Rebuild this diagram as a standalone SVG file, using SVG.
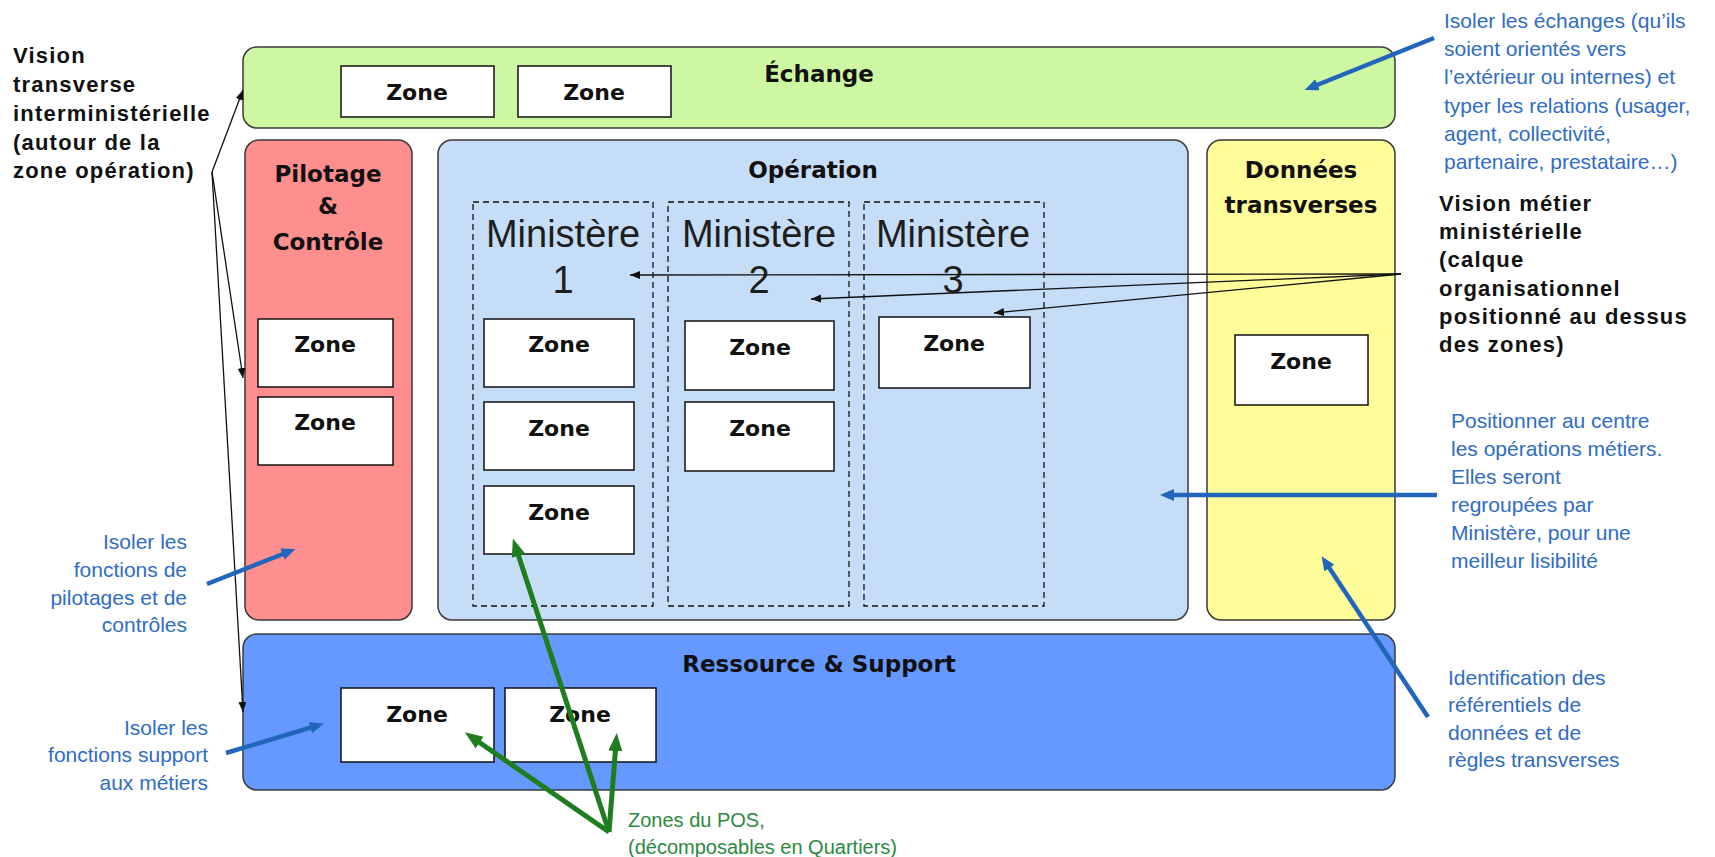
<svg xmlns="http://www.w3.org/2000/svg" width="1715" height="857" viewBox="0 0 1715 857">
<style>
.bg{fill:#ffffff}
.area{stroke:#3a3a3a;stroke-width:1.5}
.zone{fill:#ffffff;stroke:#111;stroke-width:1.5}
.dash{fill:none;stroke:#111;stroke-width:1.3;stroke-dasharray:6 4}
.zt{font-family:"DejaVu Sans",Verdana,sans-serif;font-weight:bold;font-size:22px;fill:#111;text-anchor:middle}
.tt{font-family:"DejaVu Sans",Verdana,sans-serif;font-weight:bold;font-size:23px;fill:#111;text-anchor:middle}
.min{font-family:"Liberation Sans",Arial,sans-serif;font-size:38px;fill:#1e1e1e;text-anchor:middle}
.bk{font-family:"Liberation Sans",Arial,sans-serif;font-weight:bold;font-size:22px;fill:#111;letter-spacing:1.2px}
.bl{font-family:"Liberation Sans",Arial,sans-serif;font-size:21px;fill:#2f6cc4}
.gr{font-family:"Liberation Sans",Arial,sans-serif;font-size:20px;fill:#2b8a3e}
.ka{fill:none;stroke:#111;stroke-width:1.3}
.ba{fill:none;stroke:#2266bb;stroke-width:4.5}
.ga{fill:none;stroke:#1e7d1e;stroke-width:5}
</style>
<defs>
<marker id="mk" markerUnits="userSpaceOnUse" markerWidth="11" markerHeight="9" refX="10" refY="4" orient="auto"><path d="M0,0 L10,4 L0,8 z" fill="#111"/></marker>
<marker id="mb" markerUnits="userSpaceOnUse" markerWidth="16" markerHeight="14" refX="6" refY="6" orient="auto"><path d="M0,0 L14,6 L0,12 z" fill="#2266bb"/></marker>
<marker id="mg" markerUnits="userSpaceOnUse" markerWidth="20" markerHeight="16" refX="8" refY="7" orient="auto"><path d="M0,0 L18,7 L0,14 z" fill="#1e7d1e"/></marker>
</defs>
<rect class="bg" x="0" y="0" width="1715" height="857"/>

<g id="echange">
<rect class="area" x="243" y="47" width="1152" height="81" rx="14" fill="#cdf7a0"/>
<text class="tt" x="819" y="82">Échange</text>
<rect class="zone" x="341" y="66" width="153" height="51"/>
<text class="zt" x="417" y="100">Zone</text>
<rect class="zone" x="518" y="66" width="153" height="51"/>
<text class="zt" x="594" y="100">Zone</text>
</g>

<g id="pilotage">
<rect class="area" x="245" y="140" width="167" height="480" rx="14" fill="#ff8f8f"/>
<text class="tt" x="328" y="182">Pilotage</text>
<text class="tt" x="328" y="214">&amp;</text>
<text class="tt" x="328" y="250">Contrôle</text>
<rect class="zone" x="258" y="319" width="135" height="68"/>
<text class="zt" x="325" y="352">Zone</text>
<rect class="zone" x="258" y="397" width="135" height="68"/>
<text class="zt" x="325" y="430">Zone</text>
</g>

<g id="operation">
<rect class="area" x="438" y="140" width="750" height="480" rx="14" fill="#c5ddf6"/>
<text class="tt" x="813" y="178">Opération</text>
</g>

<g id="ministere1">
<rect class="dash" x="473" y="202" width="180" height="404"/>
<text class="min" x="563" y="247">Ministère</text>
<text class="min" x="563" y="293">1</text>
<rect class="zone" x="484" y="319" width="150" height="68"/>
<text class="zt" x="559" y="352">Zone</text>
<rect class="zone" x="484" y="402" width="150" height="68"/>
<text class="zt" x="559" y="436">Zone</text>
<rect class="zone" x="484" y="486" width="150" height="68"/>
<text class="zt" x="559" y="520">Zone</text>
</g>

<g id="ministere2">
<rect class="dash" x="668" y="202" width="181" height="404"/>
<text class="min" x="759" y="247">Ministère</text>
<text class="min" x="759" y="293">2</text>
<rect class="zone" x="685" y="321" width="149" height="69"/>
<text class="zt" x="760" y="355">Zone</text>
<rect class="zone" x="685" y="402" width="149" height="69"/>
<text class="zt" x="760" y="436">Zone</text>
</g>

<g id="ministere3">
<rect class="dash" x="864" y="202" width="180" height="404"/>
<text class="min" x="953" y="247">Ministère</text>
<text class="min" x="953" y="293">3</text>
<rect class="zone" x="879" y="317" width="151" height="71"/>
<text class="zt" x="954" y="351">Zone</text>
</g>

<g id="donnees">
<rect class="area" x="1207" y="140" width="188" height="480" rx="14" fill="#fffc9a"/>
<text class="tt" x="1301" y="178">Données</text>
<text class="tt" x="1301" y="213">transverses</text>
<rect class="zone" x="1235" y="335" width="133" height="70"/>
<text class="zt" x="1301" y="369">Zone</text>
</g>

<g id="ressource">
<rect class="area" x="243" y="634" width="1152" height="156" rx="14" fill="#6699ff"/>
<text class="tt" x="819" y="672">Ressource &amp; Support</text>
<rect class="zone" x="341" y="688" width="153" height="74"/>
<text class="zt" x="417" y="722">Zone</text>
<rect class="zone" x="505" y="688" width="151" height="74"/>
<text class="zt" x="580" y="722">Zone</text>
</g>

<g id="note-vision-transverse">
<text class="bk" x="13" y="63">Vision</text>
<text class="bk" x="13" y="92">transverse</text>
<text class="bk" x="13" y="121">interministérielle</text>
<text class="bk" x="13" y="150">(autour de la</text>
<text class="bk" x="13" y="178" letter-spacing="2">zone opération)</text>
</g>

<g id="note-vision-metier">
<text class="bk" x="1439" y="211">Vision métier</text>
<text class="bk" x="1439" y="239">ministérielle</text>
<text class="bk" x="1439" y="267">(calque</text>
<text class="bk" x="1439" y="296">organisationnel</text>
<text class="bk" x="1439" y="324">positionné au dessus</text>
<text class="bk" x="1439" y="352">des zones)</text>
</g>

<g id="note-echanges">
<text class="bl" x="1444" y="28">Isoler les échanges (qu’ils</text>
<text class="bl" x="1444" y="56">soient orientés vers</text>
<text class="bl" x="1444" y="84">l’extérieur ou internes) et</text>
<text class="bl" x="1444" y="113">typer les relations (usager,</text>
<text class="bl" x="1444" y="141">agent, collectivité,</text>
<text class="bl" x="1444" y="169">partenaire, prestataire…)</text>
</g>

<g id="note-operations">
<text class="bl" x="1451" y="428">Positionner au centre</text>
<text class="bl" x="1451" y="456">les opérations métiers.</text>
<text class="bl" x="1451" y="484">Elles seront</text>
<text class="bl" x="1451" y="512">regroupées par</text>
<text class="bl" x="1451" y="540">Ministère, pour une</text>
<text class="bl" x="1451" y="568">meilleur lisibilité</text>
</g>

<g id="note-referentiels">
<text class="bl" x="1448" y="685">Identification des</text>
<text class="bl" x="1448" y="712">référentiels de</text>
<text class="bl" x="1448" y="740">données et de</text>
<text class="bl" x="1448" y="767">règles transverses</text>
</g>

<g id="note-pilotage" text-anchor="end">
<text class="bl" x="187" y="549">Isoler les</text>
<text class="bl" x="187" y="577">fonctions de</text>
<text class="bl" x="187" y="605">pilotages et de</text>
<text class="bl" x="187" y="632">contrôles</text>
</g>

<g id="note-support" text-anchor="end">
<text class="bl" x="208" y="735">Isoler les</text>
<text class="bl" x="208" y="762">fonctions support</text>
<text class="bl" x="208" y="790">aux métiers</text>
</g>

<g id="note-pos">
<text class="gr" x="628" y="827">Zones du POS,</text>
<text class="gr" x="628" y="854">(décomposables en Quartiers)</text>
</g>

<g id="connectors">
<path class="ka" d="M212,172 L243,90" marker-end="url(#mk)"/>
<path class="ka" d="M212,172 L243,378" marker-end="url(#mk)"/>
<path class="ka" d="M212,172 L243,712" marker-end="url(#mk)"/>
<path class="ka" d="M1401,274 L630,275" marker-end="url(#mk)"/>
<path class="ka" d="M1401,274 L811,299" marker-end="url(#mk)"/>
<path class="ka" d="M1401,274 L994,313" marker-end="url(#mk)"/>
<path class="ba" d="M1434,38 L1312,87" marker-end="url(#mb)"/>
<path class="ba" d="M1437,495 L1168,495" marker-end="url(#mb)"/>
<path class="ba" d="M1428,717 L1326,563" marker-end="url(#mb)"/>
<path class="ba" d="M207,584 L288,552" marker-end="url(#mb)"/>
<path class="ba" d="M226,753 L316,726" marker-end="url(#mb)"/>
<path class="ga" d="M609,832 L516,548" marker-end="url(#mg)"/>
<path class="ga" d="M609,832 L473,738" marker-end="url(#mg)"/>
<path class="ga" d="M609,832 L616,743" marker-end="url(#mg)"/>
</g>
</svg>
